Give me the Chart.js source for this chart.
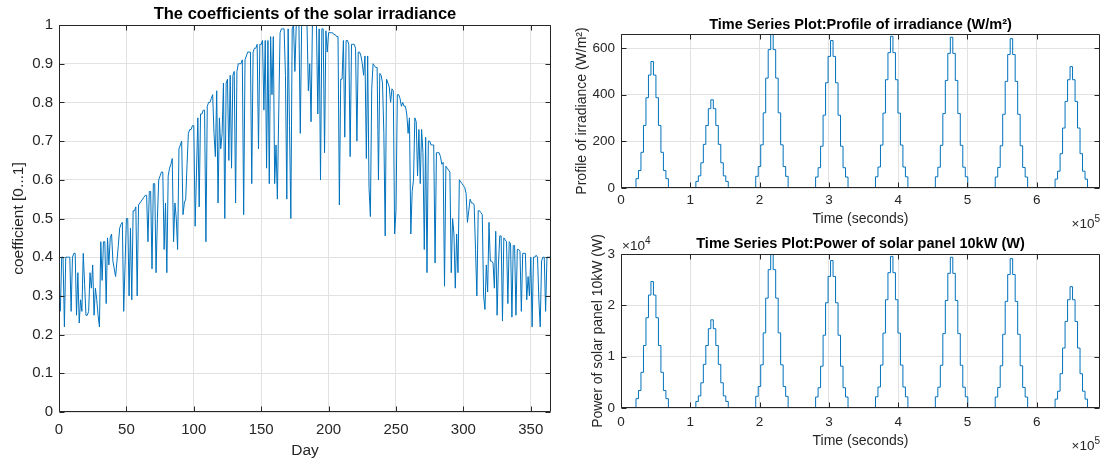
<!DOCTYPE html>
<html>
<head>
<meta charset="utf-8">
<script src="https://cdn.jsdelivr.net/npm/chart.js@4/dist/chart.umd.min.js"></script>
<style>
  html, body { margin: 0; padding: 0; background: #fff; }
  body { width: 1107px; height: 463px; position: relative; overflow: hidden; }
  .box { position: absolute; }
</style>
</head>
<body>
<div class="box" style="left:0;top:0;width:560px;height:463px"><canvas id="coef"></canvas></div>
<div class="box" style="left:570px;top:0;width:537px;height:230px"><canvas id="irr"></canvas></div>
<div class="box" style="left:570px;top:230px;width:537px;height:233px"><canvas id="pow"></canvas></div>
<script>
// --- Data --------------------------------------------------------------------
// daily coefficient of solar irradiance, day 1..365
const coefficients = [
  0.26, 0.40, 0.40, 0.22, 0.40, 0.40, 0.40, 0.40, 0.26, 0.40,
  0.41, 0.41, 0.25, 0.36, 0.23, 0.29, 0.26, 0.41, 0.33, 0.25,
  0.25, 0.26, 0.36, 0.32, 0.38, 0.25, 0.32, 0.29, 0.25, 0.22,
  0.44, 0.34, 0.44, 0.44, 0.28, 0.45, 0.38, 0.45, 0.46, 0.39,
  0.37, 0.35, 0.39, 0.43, 0.475, 0.485, 0.49, 0.26, 0.38, 0.50,
  0.50, 0.30, 0.475, 0.29, 0.52, 0.52, 0.53, 0.30, 0.535, 0.54,
  0.545, 0.55, 0.555, 0.56, 0.56, 0.44, 0.57, 0.57, 0.37, 0.59,
  0.59, 0.36, 0.50, 0.60, 0.61, 0.62, 0.62, 0.42, 0.54, 0.36,
  0.61, 0.63, 0.64, 0.655, 0.44, 0.54, 0.50, 0.42, 0.68, 0.69,
  0.70, 0.51, 0.54, 0.55, 0.64, 0.72, 0.73, 0.73, 0.74, 0.74,
  0.48, 0.62, 0.76, 0.53, 0.77, 0.77, 0.78, 0.78, 0.44, 0.79,
  0.80, 0.80, 0.81, 0.82, 0.72, 0.66, 0.83, 0.54, 0.76, 0.68,
  0.72, 0.85, 0.50, 0.85, 0.86, 0.65, 0.87, 0.63, 0.87, 0.88,
  0.54, 0.88, 0.90, 0.90, 0.90, 0.91, 0.51, 0.91, 0.92, 0.93,
  0.93, 0.93, 0.59, 0.93, 0.94, 0.94, 0.95, 0.68, 0.95, 0.95,
  0.96, 0.78, 0.96, 0.63, 0.96, 0.59, 0.97, 0.82, 0.97, 0.59,
  0.69, 0.55, 0.77, 0.98, 0.99, 0.99, 0.99, 0.87, 0.55, 0.99,
  0.74, 0.50, 0.99, 1.00, 0.88, 1.00, 1.00, 1.00, 0.72, 1.00,
  1.00, 1.00, 1.00, 1.00, 0.83, 0.90, 0.75, 1.00, 1.00, 1.00,
  1.00, 0.77, 0.99, 0.60, 0.99, 0.99, 0.67, 0.985, 0.93, 0.98,
  0.98, 0.98, 0.98, 0.975, 0.975, 0.97, 0.97, 0.535, 0.86, 0.86,
  0.96, 0.71, 0.96, 0.96, 0.95, 0.66, 0.95, 0.95, 0.95, 0.94,
  0.70, 0.93, 0.93, 0.92, 0.90, 0.87, 0.92, 0.655, 0.92, 0.58,
  0.505, 0.835, 0.90, 0.895, 0.89, 0.89, 0.60, 0.875, 0.87, 0.85,
  0.72, 0.455, 0.86, 0.85, 0.84, 0.80, 0.835, 0.83, 0.46, 0.52,
  0.82, 0.82, 0.81, 0.79, 0.80, 0.79, 0.79, 0.77, 0.72, 0.76,
  0.46, 0.57, 0.60, 0.76, 0.75, 0.61, 0.73, 0.59, 0.73, 0.67,
  0.42, 0.71, 0.36, 0.70, 0.70, 0.69, 0.69, 0.69, 0.385, 0.67,
  0.67, 0.67, 0.66, 0.64, 0.645, 0.325, 0.635, 0.63, 0.625, 0.62,
  0.36, 0.50, 0.46, 0.32, 0.46, 0.36, 0.60, 0.595, 0.59, 0.585,
  0.58, 0.565, 0.49, 0.52, 0.55, 0.54, 0.54, 0.535, 0.42, 0.30,
  0.52, 0.52, 0.515, 0.51, 0.30, 0.265, 0.38, 0.31, 0.49, 0.39,
  0.39, 0.385, 0.32, 0.467, 0.25, 0.38, 0.455, 0.455, 0.235, 0.45,
  0.445, 0.44, 0.28, 0.44, 0.435, 0.245, 0.43, 0.43, 0.25, 0.42,
  0.42, 0.415, 0.26, 0.41, 0.41, 0.41, 0.29, 0.35, 0.30, 0.40,
  0.22, 0.40, 0.40, 0.405, 0.40, 0.29, 0.22, 0.39, 0.40, 0.40,
  0.26, 0.40, 0.40, 0.40, 0.40
];

// hours of the day that carry sunlight (value held for one hour each)
const sunHours = [6, 7, 8, 9, 10, 11, 12, 13, 14, 15, 16, 17, 18];

// irradiance (W/m2) per day for each sun hour, 8 days
const irradianceDays = [
  [40, 75, 153, 268, 387, 484, 542, 484, 387, 268, 153, 75, 40],
  [28, 52, 108, 187, 268, 340, 378, 340, 268, 187, 108, 52, 28],
  [50, 92, 185, 322, 471, 593, 660, 593, 471, 322, 185, 92, 50],
  [47, 87, 179, 312, 451, 564, 632, 564, 451, 312, 179, 87, 47],
  [48, 90, 184, 321, 464, 580, 650, 580, 464, 321, 184, 90, 48],
  [48, 89, 183, 319, 461, 577, 646, 577, 461, 319, 183, 89, 48],
  [47, 88, 181, 316, 457, 572, 640, 572, 457, 316, 181, 88, 47],
  [38, 72, 147, 257, 371, 464, 520, 464, 371, 257, 147, 72, 38]
];

// power of the 10 kW panel (W) per day for each sun hour
const powerDays = [
  [1820, 3410, 6950, 12180, 17590, 22000, 24630, 22000, 17590, 12180, 6950, 3410, 1820],
  [1270, 2360, 4910, 8500, 12180, 15450, 17180, 15450, 12180, 8500, 4910, 2360, 1270],
  [2270, 4180, 8410, 14630, 21410, 26950, 30000, 26950, 21410, 14630, 8410, 4180, 2270],
  [2140, 3950, 8140, 14180, 20500, 25630, 28720, 25630, 20500, 14180, 8140, 3950, 2140],
  [2180, 4090, 8360, 14590, 21090, 26360, 29540, 26360, 21090, 14590, 8360, 4090, 2180],
  [2180, 4050, 8320, 14500, 20950, 26230, 29360, 26230, 20950, 14500, 8320, 4050, 2180],
  [2140, 4000, 8230, 14360, 20770, 26000, 29090, 26000, 20770, 14360, 8230, 4000, 2140],
  [1730, 3270, 6680, 11680, 16860, 21090, 23630, 21090, 16860, 11680, 6680, 3270, 1730]
];

// tick positions
const dayTicks = [0, 50, 100, 150, 200, 250, 300, 350];
const coefTicks = [0, 0.1, 0.2, 0.3, 0.4, 0.5, 0.6, 0.7, 0.8, 0.9, 1];
const timeTicks = [0, 100000, 200000, 300000, 400000, 500000, 600000];
const irrTicks = [0, 200, 400, 600];
const powTicks = [0, 10000, 20000, 30000];

const FONT = '"Liberation Sans", Arial, Helvetica, sans-serif';
const TXT = '#262626';
const GRID = '#e2e2e2';
const BLUE = '#0072BD';
Chart.defaults.font.family = FONT;
Chart.defaults.color = TXT;
Chart.defaults.animation = false;

const fixTicks = list => s => { s.ticks = list.map(v => ({ value: v })); };

// hourly zero-order-hold series over all days
function hourlySeries(days) {
  const pts = [];
  days.forEach((levels, d) => {
    for (let h = 0; h < 24; h++) {
      const k = sunHours.indexOf(h);
      pts.push({ x: (d * 24 + h) * 3600, y: k < 0 ? 0 : levels[k] });
    }
  });
  pts.push({ x: days.length * 86400, y: 0 });
  return pts;
}

// --- MATLAB look: box, inward ticks, title, exponent labels -------------------
const matlabAxes = {
  id: 'matlab',
  afterDraw(chart, args, opts) {
    const { ctx, chartArea: a, scales } = chart;
    const L = Math.round(a.left) + 0.5, R = Math.round(a.right) - 0.5;
    const T = Math.round(a.top) + 0.5, B = Math.round(a.bottom) - 0.5;
    ctx.save();
    ctx.strokeStyle = TXT;
    ctx.lineWidth = 1;
    ctx.beginPath();
    scales.x.ticks.forEach(t => {
      const px = Math.round(scales.x.getPixelForValue(t.value)) + 0.5;
      ctx.moveTo(px, B); ctx.lineTo(px, B - 5);
      ctx.moveTo(px, T); ctx.lineTo(px, T + 5);
    });
    scales.y.ticks.forEach(t => {
      const py = Math.round(scales.y.getPixelForValue(t.value)) + 0.5;
      ctx.moveTo(L, py); ctx.lineTo(L + 5, py);
      ctx.moveTo(R, py); ctx.lineTo(R - 5, py);
    });
    ctx.rect(L, T, R - L, B - T);
    ctx.stroke();

    ctx.fillStyle = '#000';
    ctx.font = `bold ${opts.titleSize}px ${FONT}`;
    ctx.textAlign = 'center';
    ctx.textBaseline = 'alphabetic';
    ctx.fillText(opts.title, (a.left + a.right) / 2, opts.titleY);

    ctx.fillStyle = TXT;
    (opts.exps || []).forEach(e => {
      ctx.font = `13.5px ${FONT}`;
      const w1 = ctx.measureText('×10').width;
      ctx.font = `10px ${FONT}`;
      const w2 = ctx.measureText(e.sup).width;
      const x0 = e.align === 'right' ? e.x - w1 - w2 : e.x;
      ctx.textAlign = 'left';
      ctx.font = `13.5px ${FONT}`;
      ctx.fillText('×10', x0, e.y);
      ctx.font = `10px ${FONT}`;
      ctx.fillText(e.sup, x0 + w1, e.y - 6);
    });
    ctx.restore();
  }
};

// --- Left: coefficients -------------------------------------------------------
new Chart(document.getElementById('coef'), {
  type: 'line',
  data: {
    datasets: [{
      data: coefficients.map((v, i) => ({ x: i + 1, y: v })),
      borderColor: BLUE, borderWidth: 1, pointRadius: 0, tension: 0
    }]
  },
  options: {
    responsive: true, maintainAspectRatio: false,
    layout: { padding: { top: 25, right: 9, left: 0, bottom: 0 } },
    plugins: {
      legend: { display: false }, tooltip: { enabled: false },
      matlab: { title: 'The coefficients of the solar irradiance', titleSize: 16.5, titleY: 19 }
    },
    scales: {
      x: {
        type: 'linear', min: 0, max: 365,
        afterBuildTicks: fixTicks(dayTicks),
        afterFit: s => { s.height = 51; },
        ticks: { padding: 9, maxRotation: 0, autoSkip: false, font: { size: 15 } },
        grid: { color: GRID, drawTicks: false },
        border: { display: false },
        title: { display: true, text: 'Day', font: { size: 15.5 }, padding: { top: 0, bottom: 3 } }
      },
      y: {
        min: 0, max: 1,
        afterBuildTicks: fixTicks(coefTicks),
        afterFit: s => { s.width = 59; },
        ticks: { padding: 6, font: { size: 15 }, callback: v => String(v) },
        grid: { color: GRID, drawTicks: false },
        border: { display: false },
        title: { display: true, text: 'coefficient [0...1]', font: { size: 15.5 }, padding: { top: 9, bottom: 0 } }
      }
    }
  },
  plugins: [matlabAxes]
});

// --- Right: time series -------------------------------------------------------
function timeSeriesChart(id, days, cfg) {
  return new Chart(document.getElementById(id), {
    type: 'line',
    data: {
      datasets: [{
        data: hourlySeries(days),
        borderColor: BLUE, borderWidth: 1, pointRadius: 0, stepped: 'before'
      }]
    },
    options: {
      responsive: true, maintainAspectRatio: false,
      layout: { padding: { top: cfg.top, right: 7, left: 0, bottom: 0 } },
      plugins: {
        legend: { display: false }, tooltip: { enabled: false },
        matlab: { title: cfg.title, titleSize: 14.5, titleY: cfg.titleY, exps: cfg.exps }
      },
      scales: {
        x: {
          type: 'linear', min: 0, max: 691200,
          afterBuildTicks: fixTicks(timeTicks),
          afterFit: s => { s.height = cfg.xHeight; },
          ticks: { padding: cfg.xPad, maxRotation: 0, autoSkip: false,
                   font: { size: 13.5 }, callback: v => String(v / 1e5) },
          grid: { color: GRID, drawTicks: false },
          border: { display: false },
          title: { display: true, text: 'Time (seconds)', font: { size: 14 },
                   padding: { top: 0, bottom: cfg.xTitlePad } }
        },
        y: {
          min: 0, max: cfg.yMax,
          afterBuildTicks: fixTicks(cfg.yTicks),
          afterFit: s => { s.width = 51; },
          ticks: { padding: 6, font: { size: 13.5 }, callback: v => String(v / cfg.yDiv) },
          grid: { color: GRID, drawTicks: false },
          border: { display: false },
          title: { display: true, text: cfg.yTitle, font: { size: 14 },
                   padding: { top: cfg.yTitlePad, bottom: 0 } }
        }
      }
    },
    plugins: [matlabAxes]
  });
}

timeSeriesChart('irr', irradianceDays, {
  title: 'Time Series Plot:Profile of irradiance (W/m²)', titleY: 29, top: 34,
  xHeight: 42, xPad: 4, xTitlePad: 2,
  yMax: 660, yTicks: irrTicks, yDiv: 1, yTitle: 'Profile of irradiance (W/m²)', yTitlePad: 4,
  exps: [{ sup: '5', x: 530, y: 228, align: 'right' }]
});

timeSeriesChart('pow', powerDays, {
  title: 'Time Series Plot:Power of solar panel 10kW (W)', titleY: 18, top: 24,
  xHeight: 55, xPad: 6, xTitlePad: 13,
  yMax: 30000, yTicks: powTicks, yDiv: 1e4, yTitle: 'Power of solar panel 10kW (W)', yTitlePad: 20,
  exps: [{ sup: '4', x: 52, y: 20, align: 'left' }, { sup: '5', x: 530, y: 220, align: 'right' }]
});
</script>
</body>
</html>
